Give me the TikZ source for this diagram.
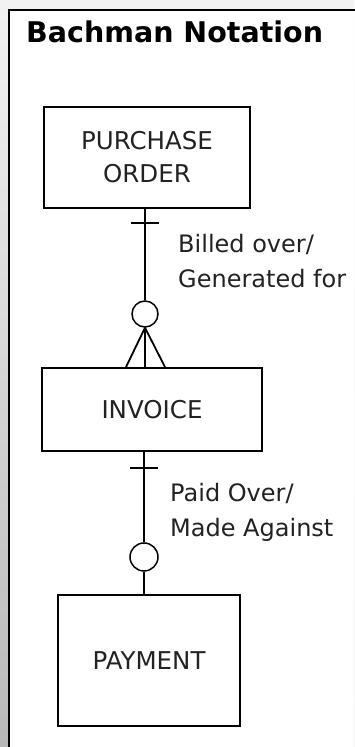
\documentclass[tikz,border=0pt]{standalone}
\usepackage{fontspec}
\setmainfont{DejaVu Sans}
\usetikzlibrary{positioning,calc}
\definecolor{bmtext}{HTML}{222222}
\definecolor{bmtop}{HTML}{F2F2F2}
\definecolor{bmbottom}{HTML}{B8B8B8}
\tikzset{
    entity/.style={draw=black,line width=1.9pt,fill=white,inner sep=0pt,align=center,
        text=bmtext,font=\fontsize{24.5}{33}\selectfont},
    optional/.style={circle,draw=black,line width=1.5pt,fill=white,minimum size=#1,inner sep=0pt},
    rel/.style={line width=1.8pt,draw=black},
    label/.style={anchor=base west,align=left,inner sep=0pt,text=bmtext,
        font=\fontsize{24}{35}\selectfont},
}
\begin{document}
\begin{tikzpicture}[x=1pt,y=1pt]
    \useasboundingbox (0,0) rectangle (354,747);
    \shade[top color=bmtop,bottom color=bmbottom] (0,0) rectangle (354,747);
    \fill[white] (9,0) rectangle (354,737);
    \draw[line width=2pt] (9,-5) -- (9,737) -- (360,737);
    \node[anchor=base west,inner sep=0pt,font=\fontsize{28.5}{30}\selectfont\bfseries] (title) at (26,704) {Bachman Notation};
    % entities
    \node[entity,minimum width=206,minimum height=101] (po) at (147,589.5) {PURCHASE\\ORDER};
    \node[entity,minimum width=220,minimum height=83] (inv) at (152,337.5) {INVOICE};
    \node[entity,minimum width=182,minimum height=131] (pay) at (149,86.5) {PAYMENT};
    % purchase order -- invoice
    \node[optional=26] (o1) at (145,433) {};
    \draw[rel] (po.south -| o1) -- (o1.north);
    \draw[rel] ($(po.south -| o1)+(-14,-14)$) -- ++(28,0);
    \draw[rel] (o1.south) -- (inv.north -| o1);
    \draw[rel] (o1.south) -- ($(inv.north -| o1)+(-19,0)$);
    \draw[rel] (o1.south) -- ($(inv.north -| o1)+(20,0)$);
    \node[label] (lbl1) at (178,459) {Billed over/\\Generated for};
    % invoice -- payment
    \node[optional=28] (o2) at (144,190) {};
    \draw[rel] (inv.south -| o2) -- (o2.north);
    \draw[rel] ($(inv.south -| o2)+(-14,-16)$) -- ++(28,0);
    \draw[rel] (o2.south) -- (pay.north -| o2);
    \node[label] (lbl2) at (170,210) {Paid Over/\\Made Against};
\end{tikzpicture}
\end{document}
